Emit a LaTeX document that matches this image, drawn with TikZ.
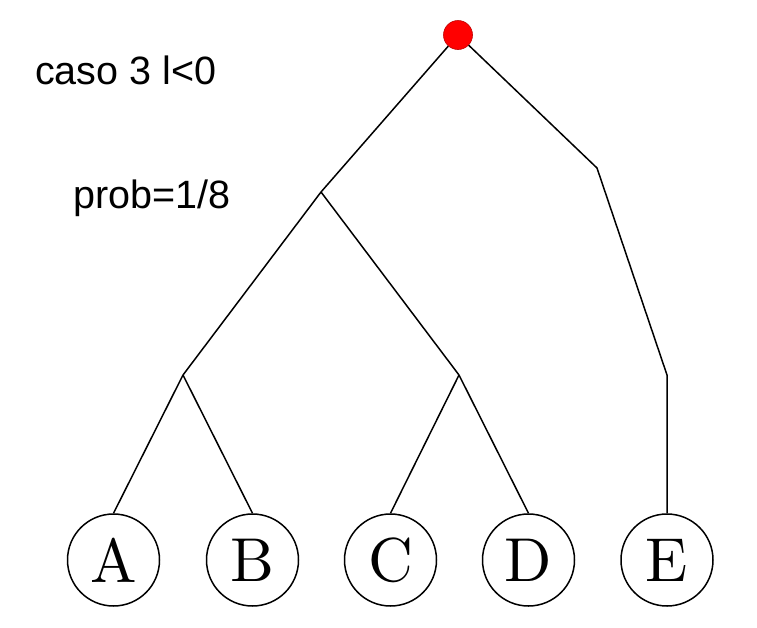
\documentclass[tikz,border=0pt]{standalone}
\usepackage{fontspec}
\newfontfamily\labelfont{Liberation Sans}
\newfontfamily\leaffont{lmroman10-regular}[Extension=.otf]
\begin{document}
\begin{tikzpicture}[x=1pt,y=-1pt,
  edge/.style={line width=1.5pt,black},
  leaf/.style={circle,draw,line width=1.5pt,minimum size=92pt,inner sep=0pt,font=\leaffont\fontsize{62}{62}\selectfont},
  rootdot/.style={circle,fill=red,draw=red!75!black,line width=0.6pt,minimum size=29pt,inner sep=0pt},
  caption/.style={anchor=base west,inner sep=0pt,font=\labelfont\fontsize{39.5}{39.5}\selectfont}]
\useasboundingbox (0,0) rectangle (757,627);
\node[rootdot] (root) at (458,35) {};
\coordinate (j1) at (321,192);
\coordinate (k1) at (597,168);
\coordinate (k2) at (667,375);
\coordinate (j2) at (183,375);
\coordinate (j3) at (459,375);
\node[leaf] (A) at (113.5,560) {A};
\node[leaf] (B) at (252.5,560) {B};
\node[leaf] (C) at (390.5,560) {C};
\node[leaf] (D) at (528.5,560) {D};
\node[leaf] (E) at (667,560) {E};
\draw[edge] (root) -- (j1);
\draw[edge] (root) -- (k1) -- (k2) -- (E.north);
\draw[edge] (j1) -- (j2);
\draw[edge] (j1) -- (j3);
\draw[edge] (j2) -- (A.north);
\draw[edge] (j2) -- (B.north);
\draw[edge] (j3) -- (C.north);
\draw[edge] (j3) -- (D.north);
\node[caption] (t1) at (35,84) {caso 3 l<0};
\node[caption] (t2) at (73,208) {prob=1/8};
\end{tikzpicture}
\end{document}
